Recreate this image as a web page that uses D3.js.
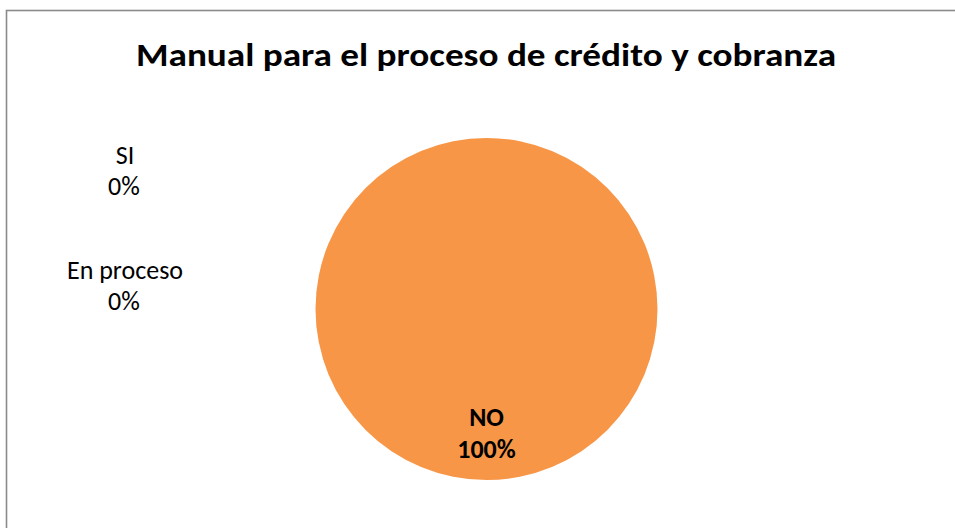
<!DOCTYPE html>
<html>
<head>
<meta charset="utf-8">
<script src="https://cdn.jsdelivr.net/npm/d3@7"></script>
<style>
  html, body { margin: 0; padding: 0; background: #fff; }
  svg { display: block; }
</style>
</head>
<body>
<svg id="chart" width="955" height="528"></svg>
<script>
// Survey answers for the credit & collection manual
const categories = ["SI", "NO", "En proceso"];
const values = [0, 100, 0];
const sliceColors = ["#4F81BD", "#F79646", "#9BBB59"];
const chartTitle = "Manual para el proceso de crédito y cobranza";

const svg = d3.select("#chart");
const W = 955, H = 528;
const font = "Carlito, Calibri, Lato, 'Open Sans', sans-serif";

// chart frame (open on the right/bottom where it runs off the page)
svg.append("rect")
  .attr("x", 6.5).attr("y", 10.5)
  .attr("width", W + 10).attr("height", H + 10)
  .attr("fill", "#fff")
  .attr("stroke", "#8a8a8a")
  .attr("stroke-width", 1.6);

svg.append("text")
  .attr("x", 486).attr("y", 66)
  .attr("text-anchor", "middle")
  .attr("font-family", font)
  .attr("font-weight", "bold")
  .attr("font-size", 32)
  .attr("textLength", 700)
  .attr("lengthAdjust", "spacingAndGlyphs")
  .attr("fill", "#000")
  .text(chartTitle);

const cx = 486.5, cy = 309, r = 171;
const total = d3.sum(values);
const data = categories.map((c, i) => ({ cat: c, value: values[i], color: sliceColors[i] }));

const pie = d3.pie().value(d => d.value).sort(null);
const arcs = pie(data);
const arc = d3.arc().innerRadius(0).outerRadius(r);
const labelArc = d3.arc().innerRadius(r * 1.46).outerRadius(0);

const g = svg.append("g").attr("transform", `translate(${cx},${cy})`);
g.selectAll("path")
  .data(arcs.filter(a => a.data.value > 0))
  .join("path")
  .attr("d", arc)
  .attr("fill", d => d.data.color);

const pct = v => Math.round(v / total * 100) + "%";

// label for the filled slice, inside at its centroid
arcs.filter(a => a.data.value > 0).forEach(a => {
  const [lx, ly] = labelArc.centroid(a);
  const t = g.append("text")
    .attr("text-anchor", "middle")
    .attr("font-family", font)
    .attr("font-weight", "bold")
    .attr("font-size", 26)
    .attr("fill", "#000");
  t.append("tspan").attr("x", lx).attr("y", ly - 8).text(a.data.cat);
  t.append("tspan").attr("x", lx).attr("y", ly + 24).text(pct(a.data.value));
});

// empty slices get their labels stacked on the left side
const emptyLabelY = { "SI": 164, "En proceso": 279 };
arcs.filter(a => a.data.value === 0).forEach(a => {
  const y0 = emptyLabelY[a.data.cat];
  const t = svg.append("text")
    .attr("text-anchor", "middle")
    .attr("font-family", font)
    .attr("font-size", 26)
    .attr("fill", "#000");
  t.append("tspan").attr("x", 125).attr("y", y0).text(a.data.cat);
  t.append("tspan").attr("x", 124).attr("y", y0 + 31).text(pct(a.data.value));
});
</script>
</body>
</html>
